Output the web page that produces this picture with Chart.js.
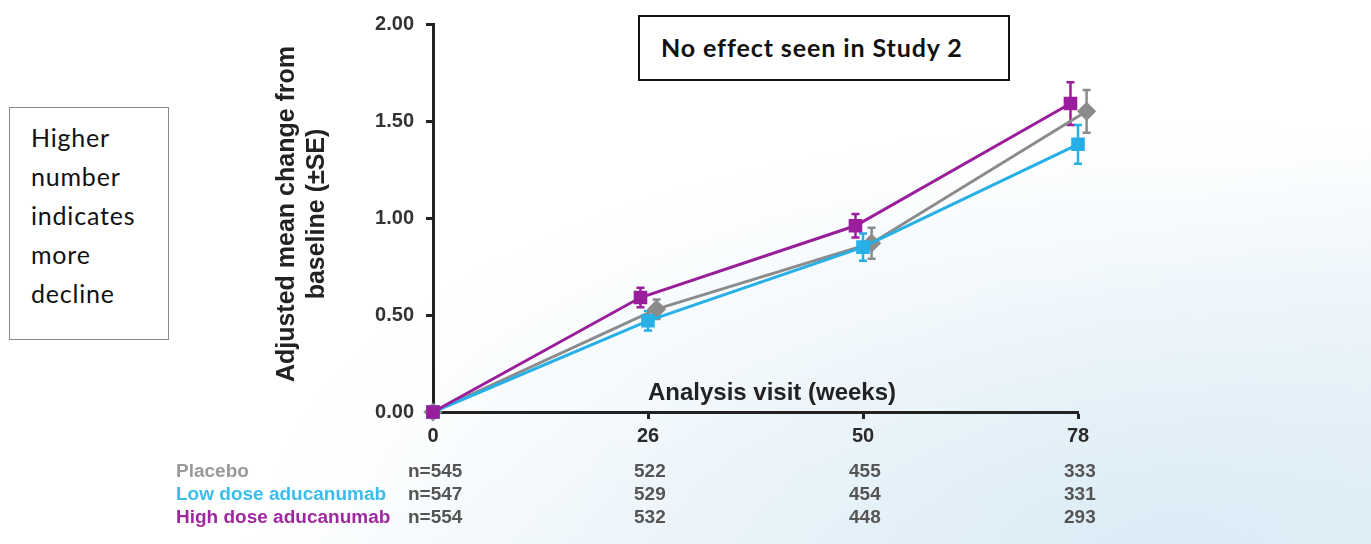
<!DOCTYPE html>
<html>
<head>
<meta charset="utf-8">
<script src="https://cdn.jsdelivr.net/npm/chart.js@4.4.1/dist/chart.umd.min.js"></script>
<style>
  html, body { margin: 0; padding: 0; }
  body { width: 1371px; height: 544px; position: relative; overflow: hidden; background: #fff; }
  #bg { position: absolute; left: 0; top: 0; width: 1371px; height: 544px;
    background:
      linear-gradient(160deg, rgba(255,255,255,0) 60%, rgba(214,232,244,0.45) 100%),
      radial-gradient(ellipse at 85% 100%, rgba(190,220,238,0.5), rgba(255,255,255,0) 55%); }
  #wrap { position: absolute; left: 0; top: 0; width: 1371px; height: 544px; }
  .box { position: absolute; background: #fff; }
  #note { left: 9px; top: 107px; width: 158px; height: 231px; border: 1.5px solid #8a8a8a;
    font-family: Lato, "Open Sans", sans-serif; font-size: 25px; letter-spacing: 0.8px;
    line-height: 39px; color: #111; }
  #note div { padding: 10px 0 0 21px; }
  #study { left: 638px; top: 15px; width: 368px; height: 62px; border: 2px solid #111;
    font-family: Lato, "Open Sans", sans-serif; font-weight: bold; font-size: 25px;
    letter-spacing: 0.9px; color: #111; }
  #study span { position: absolute; left: 21px; top: 15px; }
  .cell { position: absolute; font-family: "Liberation Sans", Arial, sans-serif; font-size: 19px;
    font-weight: bold; line-height: 20px; white-space: nowrap; transform: scaleY(0.95); }
</style>
</head>
<body>
<div id="bg"></div>
<div id="wrap"><canvas id="myChart" width="1371" height="544"></canvas></div>
<div class="box" id="note"><div>Higher<br>number<br>indicates<br>more<br>decline</div></div>
<div class="box" id="study"><span>No effect seen in Study 2</span></div>
<div id="table"></div>
<script>
// analysis visits (weeks)
var weeks = [0, 26, 50, 78];
var yTicks = [0, 0.5, 1, 1.5, 2];

// adjusted mean change from baseline, and SE
var placebo = [0, 0.53, 0.87, 1.55];
var placeboSE = [0, 0.05, 0.08, 0.11];
var lowDose = [0, 0.47, 0.85, 1.38];
var lowDoseSE = [0, 0.05, 0.07, 0.10];
var highDose = [0, 0.59, 0.96, 1.59];
var highDoseSE = [0, 0.05, 0.06, 0.11];

// patients at each visit
var placeboN = [545, 522, 455, 333];
var lowDoseN = [547, 529, 454, 331];
var highDoseN = [554, 532, 448, 293];

var purple = "#9a1e9c", cyan = "#26b0e6", grey = "#8b8b8b";

function pts(vals, se, shift) {
  return vals.map(function (v, i) { return { x: i + (i > 0 ? shift : 0), y: v, se: se[i] }; });
}

var errorBars = {
  id: "errorBars",
  beforeDatasetsDraw: function (chart) {
    var c = chart.ctx, xs = chart.scales.x, ys = chart.scales.y;
    chart.data.datasets.forEach(function (ds) {
      c.save();
      c.strokeStyle = ds.borderColor;
      c.lineWidth = 2.5;
      ds.data.forEach(function (p) {
        if (!p.se) return;
        var x = xs.getPixelForValue(p.x);
        var t = ys.getPixelForValue(p.y + p.se), b = ys.getPixelForValue(p.y - p.se);
        c.beginPath();
        c.moveTo(x, t); c.lineTo(x, b);
        c.moveTo(x - 4, t); c.lineTo(x + 4, t);
        c.moveTo(x - 4, b); c.lineTo(x + 4, b);
        c.stroke();
      });
      c.restore();
    });
  }
};

var titles = {
  id: "titles",
  afterDraw: function (chart) {
    var c = chart.ctx, a = chart.chartArea;
    c.save();
    c.fillStyle = "#222";
    c.font = "bold 24px 'Liberation Sans', Arial, sans-serif";
    c.textAlign = "center";
    c.textBaseline = "middle";
    c.fillText("Analysis visit (weeks)", 772, a.bottom - 19);
    c.translate(302, 214);
    c.rotate(-Math.PI / 2);
    c.font = "bold 25px 'Liberation Sans', Arial, sans-serif";
    c.fillText("Adjusted mean change from", 0, -15);
    c.fillText("baseline (\u00b1SE)", 0, 15);
    c.restore();
  }
};

var ctx = document.getElementById("myChart");
var myChart = new Chart(ctx, {
  type: "line",
  data: {
    datasets: [
      { label: "High dose aducanumab", data: pts(highDose, highDoseSE, -0.035), borderColor: purple,
        backgroundColor: purple, pointStyle: "rect", pointRadius: 7.5, borderWidth: 3, clip: false },
      { label: "Low dose aducanumab", data: pts(lowDose, lowDoseSE, 0.0), borderColor: cyan,
        backgroundColor: cyan, pointStyle: "rect", pointRadius: 7.5, borderWidth: 3, clip: false },
      { label: "Placebo", data: pts(placebo, placeboSE, 0.04), borderColor: grey,
        backgroundColor: grey, pointStyle: "rectRot", pointRadius: 7.5, borderWidth: 3, clip: false }
    ]
  },
  options: {
    responsive: false,
    animation: false,
    layout: { padding: { left: 0, right: 293, top: 24, bottom: 92 } },
    plugins: { legend: { display: false }, tooltip: { enabled: false } },
    scales: {
      x: {
        type: "linear", min: 0, max: 3,
        afterFit: function (s) { s.height = 40; },
        afterBuildTicks: function (s) { s.ticks = weeks.map(function (w, i) { return { value: i }; }); },
        ticks: { callback: function (v) { return weeks[v]; }, color: "#2a2a2a", padding: 5,
          font: { family: "'Liberation Sans', Arial, sans-serif", weight: "bold", size: 20 } },
        grid: { drawOnChartArea: false, tickLength: 7, tickWidth: 3, tickColor: "#222" },
        border: { color: "#222", width: 3 }
      },
      y: {
        min: 0, max: 2,
        afterFit: function (s) { s.width = 433; },
        afterBuildTicks: function (s) { s.ticks = yTicks.map(function (v) { return { value: v }; }); },
        ticks: { callback: function (v) { return v.toFixed(2); }, color: "#333", padding: 12,
          font: { family: "'Liberation Sans', Arial, sans-serif", weight: "bold", size: 20 } },
        grid: { drawOnChartArea: false, tickLength: 7, tickWidth: 3, tickColor: "#222" },
        border: { color: "#222", width: 3 }
      }
    }
  },
  plugins: [errorBars, titles]
});

// numbers-at-risk table under the axis
var rows = [
  { name: "Placebo", n: placeboN, color: "#999" },
  { name: "Low dose aducanumab", n: lowDoseN, color: "#3bbdec" },
  { name: "High dose aducanumab", n: highDoseN, color: "#a0289f" }
];
var table = document.getElementById("table");
rows.forEach(function (r, k) {
  var top = 461 + k * 23;
  var lab = document.createElement("div");
  lab.className = "cell";
  lab.style.left = "176px"; lab.style.top = top + "px"; lab.style.color = r.color;
  lab.textContent = r.name;
  table.appendChild(lab);
  r.n.forEach(function (v, i) {
    var d = document.createElement("div");
    d.className = "cell";
    d.style.top = top + "px";
    d.style.color = "#555";
    if (i === 0) {
      d.style.left = "408px";
      d.textContent = "n=" + v;
    } else {
      d.style.left = (myChart.scales.x.getPixelForValue(i) - 14) + "px";
      d.textContent = v;
    }
    table.appendChild(d);
  });
});
</script>
</body>
</html>
